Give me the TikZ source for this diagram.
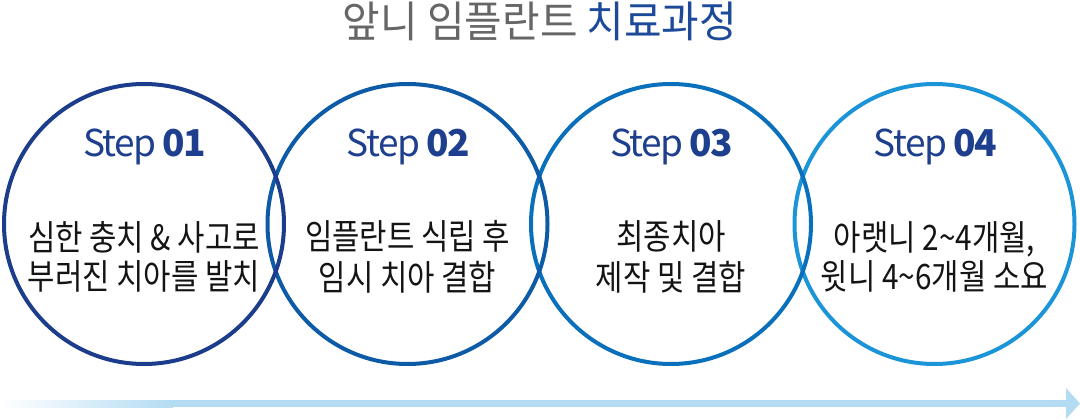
\documentclass[tikz,border=0pt]{standalone}
\usepackage{fontspec}
\setmainfont{Noto Sans CJK KR}
\newfontfamily\stepfont{Noto Sans CJK KR}[LetterSpace=-4]
\usepackage{graphicx}
\definecolor{titlegray}{HTML}{666666}
\definecolor{titleblue}{HTML}{1D4A98}
\definecolor{stepblue}{HTML}{1D3F8D}
\definecolor{cA}{HTML}{1B3D8B}
\definecolor{cB}{HTML}{0D5AA6}
\definecolor{cC}{HTML}{0A70BC}
\definecolor{cD}{HTML}{1C95D8}
\definecolor{arrowblue}{HTML}{B3DCF2}
\begin{document}
\begin{tikzpicture}[x=1pt,y=-1pt,
  stepcircle/.style={circle,draw,line width=4pt,minimum size=280pt,inner sep=0pt},
  steplabel/.style={inner sep=0pt,text=stepblue,font=\stepfont\fontsize{37}{40}\selectfont},
  bodytext/.style={inner sep=0pt,text=black!92,font=\fontsize{35}{36.5}\selectfont}
]
\useasboundingbox (0,0) rectangle (1080,420);
% title
\node[inner sep=0pt] (title) at (540,21)
  {\scalebox{0.95}[1]{\fontsize{43}{44}\selectfont\color{titlegray}앞니 임플란트 \color{titleblue}치료과정}};
% circles
\node[stepcircle,draw=cD] (c4) at (934.5,224) {};
\node[stepcircle,draw=cC] (c3) at (671,224) {};
\node[stepcircle,draw=cB] (c2) at (407.5,224) {};
\node[stepcircle,draw=cA] (c1) at (144,224) {};
% step labels
\node[steplabel] (s1) at (144,147) {Step\,\textbf{01}};
\node[steplabel] (s2) at (407.5,147) {Step\,\textbf{02}};
\node[steplabel] (s3) at (671,147) {Step\,\textbf{03}};
\node[steplabel] (s4) at (934.5,147) {Step\,\textbf{04}};
% body texts
\node[bodytext] (t1) at (144,261) {\scalebox{0.85}[1]{\begin{tabular}{@{}c@{}}심한 충치 \& 사고로\\부러진 치아를 발치\end{tabular}}};
\node[bodytext] (t2) at (407.5,261) {\scalebox{0.85}[1]{\begin{tabular}{@{}c@{}}임플란트 식립 후\\임시 치아 결합\end{tabular}}};
\node[bodytext] (t3) at (671,261) {\scalebox{0.85}[1]{\begin{tabular}{@{}c@{}}최종치아\\제작 및 결합\end{tabular}}};
\node[bodytext] (t4) at (934.5,261) {\scalebox{0.85}[1]{\begin{tabular}{@{}c@{}}아랫니 2\textasciitilde 4개월,\\윗니 4\textasciitilde 6개월 소요\end{tabular}}};
% arrow
\coordinate (astart) at (0,403.5);
\coordinate (aend) at (1066,403.5);
\coordinate (atip) at (1080,403.5);
\shade[left color=white,right color=arrowblue] (0,400) rectangle (173,407);
\fill[arrowblue] (173,400) rectangle (1066,407);
\fill[arrowblue] (1066,388) -- (atip) -- (1066,419) -- cycle;
\end{tikzpicture}
\end{document}
